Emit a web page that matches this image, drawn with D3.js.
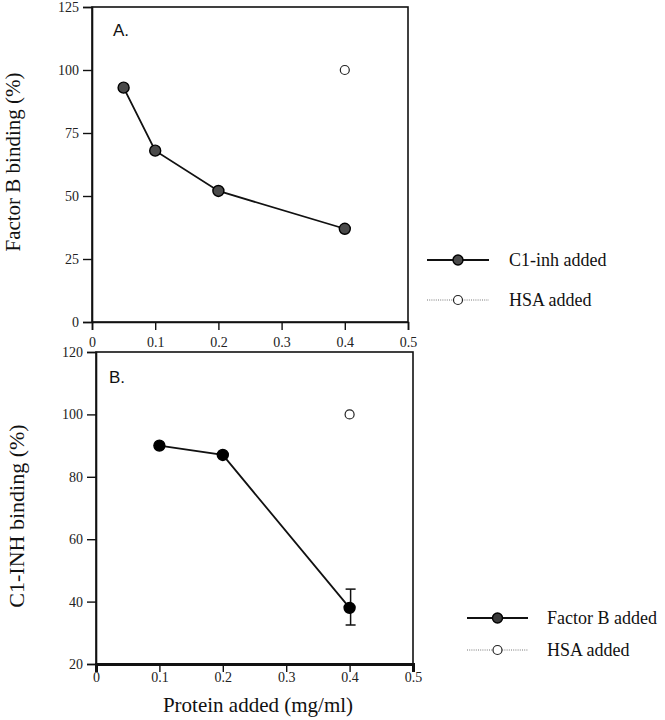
<!DOCTYPE html>
<html><head><meta charset="utf-8">
<script src="https://cdn.jsdelivr.net/npm/d3@7"></script>
<style>
body{margin:0;background:#fff;}
svg{display:block;}
</style></head>
<body><div id="chart"></div>
<script>
// Panel A data
const xTicks = [0, 0.1, 0.2, 0.3, 0.4, 0.5];
const xTickLabels = ["0", "0.1", "0.2", "0.3", "0.4", "0.5"];
const aYTicks = [0, 25, 50, 75, 100, 125];
const aC1inhX = [0.05, 0.1, 0.2, 0.4];
const aC1inhY = [93, 68, 52, 37];
const aHsaX = [0.4];
const aHsaY = [100];
// Panel B data
const bYTicks = [20, 40, 60, 80, 100, 120];
const bFactorBX = [0.1, 0.2, 0.4];
const bFactorBY = [90, 87, 38];
const bErrLow = [null, null, 32.5];
const bErrHigh = [null, null, 44];
const bHsaX = [0.4];
const bHsaY = [100];

const W = 665, H = 720;
const svg = d3.select("#chart").append("svg").attr("width", W).attr("height", H);
const serif = '"Liberation Serif","Times New Roman",serif';
const sans = '"Liberation Sans",Arial,sans-serif';

function styleTicks(sel) {
  sel.attr("font-family", serif).attr("font-size", 14);
  sel.selectAll("text").attr("font-family", serif).attr("font-size", 14).attr("fill", "#222");
}

function panel(cfg) {
  const g = svg.append("g");
  const x = d3.scaleLinear().domain([0, 0.5]).range([cfg.x0, cfg.x1]);
  const y = d3.scaleLinear().domain(cfg.yDomain).range([cfg.y0, cfg.y1]);
  // frame
  g.append("rect").attr("x", cfg.x0).attr("y", cfg.y1)
    .attr("width", cfg.x1 - cfg.x0).attr("height", cfg.y0 - cfg.y1)
    .attr("fill", "none").attr("stroke", "#111").attr("stroke-width", 1.6);
  // y axis
  const ya = g.append("g").attr("transform", `translate(${cfg.x0},0)`)
    .call(d3.axisLeft(y).tickValues(cfg.yTicks).tickSize(9).tickPadding(4).tickFormat(d3.format("d")));
  ya.select(".domain").attr("stroke", "#111").attr("stroke-width", 1.6);
  ya.selectAll(".tick line").attr("stroke", "#111").attr("stroke-width", 1.4);
  styleTicks(ya);
  // x axis
  const xa = g.append("g").attr("transform", `translate(0,${cfg.y0})`)
    .call(d3.axisBottom(x).tickValues(xTicks).tickSize(8).tickPadding(cfg.xPad)
      .tickFormat((d, i) => xTickLabels[i]));
  xa.select(".domain").attr("stroke", "#111").attr("stroke-width", cfg.xAxisW);
  xa.selectAll(".tick line").attr("stroke", "#111").attr("stroke-width", 1.4);
  styleTicks(xa);
  // y label
  g.append("text").attr("transform", `translate(${cfg.ylx},${cfg.yly}) rotate(-90)`)
    .attr("text-anchor", "middle").attr("font-family", serif).attr("font-size", cfg.ylSize)
    .attr("fill", "#111").text(cfg.ylabel);
  // panel letter
  g.append("text").attr("x", cfg.lx).attr("y", cfg.ly).attr("font-family", sans)
    .attr("font-size", 17).attr("fill", "#111").text(cfg.letter);
  // series line
  const pts = cfg.sx.map((v, i) => [x(v), y(cfg.sy[i])]);
  g.append("path").attr("d", d3.line()(pts)).attr("fill", "none")
    .attr("stroke", "#111").attr("stroke-width", 1.8);
  // error bars
  if (cfg.eLow) {
    cfg.sx.forEach((v, i) => {
      if (cfg.eLow[i] == null) return;
      const cx = x(v) + 1;
      g.append("line").attr("x1", cx).attr("x2", cx).attr("y1", y(cfg.eLow[i])).attr("y2", y(cfg.eHigh[i]))
        .attr("stroke", "#111").attr("stroke-width", 1.5);
      [cfg.eLow[i], cfg.eHigh[i]].forEach(e => {
        g.append("line").attr("x1", cx - 5).attr("x2", cx + 5).attr("y1", y(e)).attr("y2", y(e))
          .attr("stroke", "#111").attr("stroke-width", 1.5);
      });
    });
  }
  g.selectAll(".pt").data(pts).enter().append("circle")
    .attr("cx", d => d[0]).attr("cy", d => d[1]).attr("r", 5.5)
    .attr("fill", cfg.fill).attr("stroke", "#000").attr("stroke-width", 1.4);
  // HSA
  g.selectAll(".hsa").data(cfg.hx.map((v, i) => [x(v), y(cfg.hy[i])])).enter().append("circle")
    .attr("cx", d => d[0]).attr("cy", d => d[1]).attr("r", 4.5)
    .attr("fill", "#fff").attr("stroke", "#222").attr("stroke-width", 1.2);
  // legend
  const L = cfg.legend;
  g.append("line").attr("x1", L.x1).attr("x2", L.x2).attr("y1", L.y).attr("y2", L.y)
    .attr("stroke", "#111").attr("stroke-width", 1.8);
  g.append("circle").attr("cx", (L.x1 + L.x2) / 2).attr("cy", L.y).attr("r", 5)
    .attr("fill", cfg.legendFill).attr("stroke", "#000").attr("stroke-width", 1.4);
  g.append("line").attr("x1", L.x1).attr("x2", L.x2).attr("y1", L.y + L.gap).attr("y2", L.y + L.gap)
    .attr("stroke", "#777").attr("stroke-width", 1).attr("stroke-dasharray", "1,1.2");
  g.append("circle").attr("cx", (L.x1 + L.x2) / 2).attr("cy", L.y + L.gap).attr("r", 4.5)
    .attr("fill", "#fff").attr("stroke", "#222").attr("stroke-width", 1.2);
  [L.t1, L.t2].forEach((t, i) => {
    g.append("text").attr("x", L.tx).attr("y", L.y + i * L.gap + 6).attr("font-family", serif)
      .attr("font-size", 18).attr("fill", "#111").text(t);
  });
}

panel({
  x0: 92, x1: 408, y0: 322, y1: 7, yDomain: [0, 125], yTicks: aYTicks, xPad: 7, xAxisW: 1.6,
  ylabel: "Factor B binding (%)", ylx: 20, yly: 162, ylSize: 21, letter: "A.", lx: 113, ly: 36,
  sx: aC1inhX, sy: aC1inhY, fill: "#4a4a4a", hx: aHsaX, hy: aHsaY,
  legend: {x1: 427, x2: 489, y: 260, gap: 40, tx: 509, t1: "C1-inh added", t2: "HSA added"},
  legendFill: "#4a4a4a"
});
panel({
  x0: 96, x1: 413, y0: 664, y1: 352, yDomain: [20, 120], yTicks: bYTicks, xPad: 0, xAxisW: 3,
  ylabel: "C1-INH binding (%)", ylx: 24, yly: 516, ylSize: 22, letter: "B.", lx: 109, ly: 383,
  sx: bFactorBX, sy: bFactorBY, fill: "#000", hx: bHsaX, hy: bHsaY,
  eLow: bErrLow, eHigh: bErrHigh,
  legend: {x1: 467, x2: 528, y: 618, gap: 32, tx: 547, t1: "Factor B added", t2: "HSA added"},
  legendFill: "#3a3a3a"
});
svg.append("text").attr("x", 258).attr("y", 712).attr("text-anchor", "middle")
  .attr("font-family", serif).attr("font-size", 21).attr("fill", "#111").text("Protein added (mg/ml)");
</script></body></html>
